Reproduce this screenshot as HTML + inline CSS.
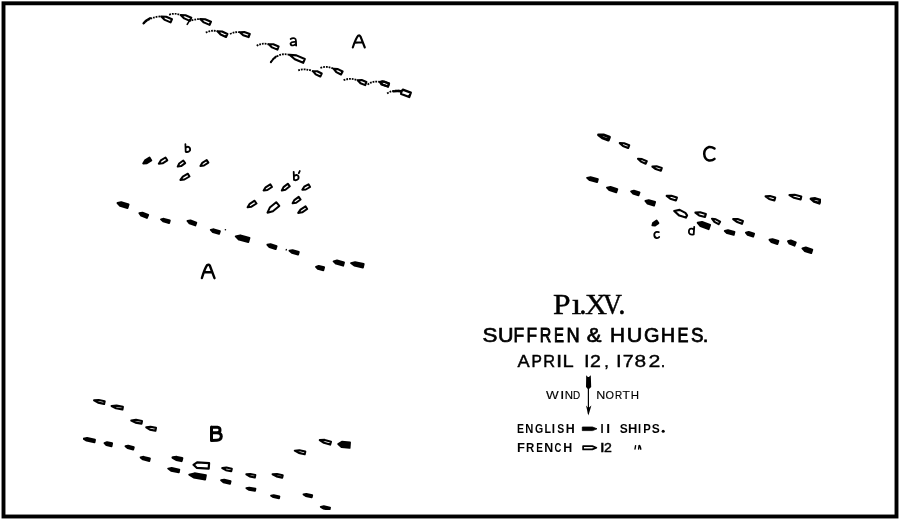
<!DOCTYPE html>
<html><head><meta charset="utf-8"><style>
html,body{margin:0;padding:0;background:#fff;width:900px;height:520px;overflow:hidden}
svg{display:block;will-change:transform}
</style></head><body>
<svg width="900" height="520" viewBox="0 0 900 520">
<rect width="900" height="520" fill="#fff"/>
<rect x="3.5" y="3.3" width="893" height="513.2" fill="none" stroke="#000" stroke-width="3.9"/>
<defs><filter id="bl" x="0" y="0" width="1" height="1"><feGaussianBlur stdDeviation="0.35"/></filter></defs>
<g filter="url(#bl)">
<path d="M161.3,16.5 L164.8,19.9 L170.6,22.4 L172.0,19.2 L166.2,16.7Z" fill="none" stroke="#000" stroke-width="2.1" stroke-linejoin="round"/>
<path d="M180.7,15.1 L184.2,18.4 L189.9,20.9 L191.3,17.7 L185.5,15.3Z" fill="none" stroke="#000" stroke-width="2.1" stroke-linejoin="round"/>
<path d="M200.2,19.1 L203.8,22.4 L209.6,24.9 L211.0,21.7 L205.1,19.3Z" fill="none" stroke="#000" stroke-width="2.1" stroke-linejoin="round"/>
<path d="M217.5,31.2 L220.6,34.5 L226.0,37.0 L227.4,34.0 L222.1,31.5Z" fill="none" stroke="#000" stroke-width="2.1" stroke-linejoin="round"/>
<path d="M239.8,32.2 L243.2,35.2 L248.6,37.1 L249.8,33.9 L244.3,32.0Z" fill="none" stroke="#000" stroke-width="2.1" stroke-linejoin="round"/>
<path d="M268.8,44.3 L272.0,47.4 L277.4,49.6 L278.6,46.4 L273.3,44.3Z" fill="none" stroke="#000" stroke-width="2.1" stroke-linejoin="round"/>
<path d="M289.5,54.8 L294.8,59.3 L303.2,62.8 L304.8,59.0 L296.4,55.4Z" fill="none" stroke="#000" stroke-width="2.1" stroke-linejoin="round"/>
<path d="M313.2,71.3 L315.7,74.4 L320.3,76.5 L321.7,73.5 L317.2,71.3Z" fill="none" stroke="#000" stroke-width="2.1" stroke-linejoin="round"/>
<path d="M333.7,68.8 L336.3,72.1 L341.0,74.5 L342.6,71.5 L337.9,69.1Z" fill="none" stroke="#000" stroke-width="2.1" stroke-linejoin="round"/>
<path d="M357.7,80.3 L360.5,83.2 L365.2,85.1 L366.4,81.9 L361.7,80.1Z" fill="none" stroke="#000" stroke-width="2.1" stroke-linejoin="round"/>
<path d="M379.9,81.7 L382.9,84.7 L387.9,86.6 L389.1,83.4 L384.1,81.5Z" fill="none" stroke="#000" stroke-width="2.1" stroke-linejoin="round"/>
<path d="M401.3,91.6 L401.2,94.0 L409.2,97.0 L410.8,92.6 L402.8,89.7Z" fill="none" stroke="#000" stroke-width="2.3" stroke-linejoin="round"/>
<path d="M380.2,82.4 L381.4,84.5 L388.0,86.6 L389.0,83.4 L382.4,81.3Z" fill="none" stroke="#000" stroke-width="2.1" stroke-linejoin="round"/>
<path d="M143.2,163.5 L146.9,163.3 L151.3,160.5 L149.5,157.6 L145.0,160.4Z" fill="#000" stroke="#000" stroke-width="1.9" stroke-linejoin="round"/>
<path d="M158.8,163.7 L162.6,163.3 L167.3,160.3 L165.5,157.5 L160.8,160.4Z" fill="none" stroke="#000" stroke-width="2.0" stroke-linejoin="round"/>
<path d="M177.7,166.6 L181.1,166.1 L185.2,163.1 L183.3,160.5 L179.2,163.5Z" fill="none" stroke="#000" stroke-width="2.0" stroke-linejoin="round"/>
<path d="M200.4,165.9 L204.0,165.5 L208.4,162.6 L206.7,160.0 L202.3,162.8Z" fill="none" stroke="#000" stroke-width="2.0" stroke-linejoin="round"/>
<path d="M180.4,179.9 L184.4,179.5 L189.5,176.5 L187.9,173.7 L182.8,176.7Z" fill="none" stroke="#000" stroke-width="2.0" stroke-linejoin="round"/>
<path d="M263.6,190.5 L267.4,190.0 L272.0,187.0 L270.3,184.3 L265.6,187.3Z" fill="none" stroke="#000" stroke-width="2.0" stroke-linejoin="round"/>
<path d="M281.8,190.5 L285.4,189.7 L289.8,186.3 L287.8,183.7 L283.5,187.1Z" fill="none" stroke="#000" stroke-width="2.0" stroke-linejoin="round"/>
<path d="M302.3,189.7 L305.8,189.5 L310.1,187.0 L308.5,184.3 L304.2,186.7Z" fill="none" stroke="#000" stroke-width="2.0" stroke-linejoin="round"/>
<path d="M247.6,207.3 L251.5,206.7 L256.5,203.5 L254.6,200.7 L249.7,203.9Z" fill="none" stroke="#000" stroke-width="2.0" stroke-linejoin="round"/>
<path d="M267.5,212.7 L272.9,211.3 L279.3,205.9 L276.2,202.2 L269.8,207.6Z" fill="none" stroke="#000" stroke-width="2.0" stroke-linejoin="round"/>
<path d="M292.6,203.3 L296.2,202.7 L300.6,199.5 L298.7,196.9 L294.3,200.1Z" fill="none" stroke="#000" stroke-width="2.0" stroke-linejoin="round"/>
<path d="M298.2,212.9 L302.2,212.3 L307.2,209.0 L305.5,206.3 L300.5,209.6Z" fill="none" stroke="#000" stroke-width="2.0" stroke-linejoin="round"/>
<path d="M117.5,203.0 L120.1,205.8 L127.5,208.0 L128.6,204.5 L121.2,202.2Z" fill="#000" stroke="#000" stroke-width="1.9" stroke-linejoin="round"/>
<path d="M139.4,213.1 L141.2,215.6 L146.9,217.9 L148.2,214.9 L142.4,212.6Z" fill="#000" stroke="#000" stroke-width="1.9" stroke-linejoin="round"/>
<path d="M161.0,219.4 L163.2,221.4 L169.1,223.0 L169.8,220.4 L163.9,218.8Z" fill="#000" stroke="#000" stroke-width="1.9" stroke-linejoin="round"/>
<path d="M187.5,221.0 L189.5,223.3 L195.3,225.4 L196.3,222.6 L190.5,220.5Z" fill="#000" stroke="#000" stroke-width="1.9" stroke-linejoin="round"/>
<path d="M210.8,229.9 L212.9,232.1 L219.0,233.9 L219.9,231.1 L213.8,229.3Z" fill="#000" stroke="#000" stroke-width="1.9" stroke-linejoin="round"/>
<path d="M235.7,236.4 L239.1,239.7 L248.3,242.1 L249.5,237.8 L240.3,235.3Z" fill="#000" stroke="#000" stroke-width="1.9" stroke-linejoin="round"/>
<path d="M267.4,244.8 L269.5,247.2 L275.6,249.1 L276.6,246.2 L270.5,244.2Z" fill="#000" stroke="#000" stroke-width="1.9" stroke-linejoin="round"/>
<path d="M289.5,250.8 L291.9,252.8 L298.1,254.5 L298.8,251.9 L292.6,250.2Z" fill="#000" stroke="#000" stroke-width="1.9" stroke-linejoin="round"/>
<path d="M316.0,266.8 L317.9,268.9 L323.3,270.3 L324.1,267.2 L318.7,265.9Z" fill="#000" stroke="#000" stroke-width="1.9" stroke-linejoin="round"/>
<path d="M333.6,261.3 L336.1,263.7 L343.1,265.7 L344.0,262.5 L337.0,260.5Z" fill="#000" stroke="#000" stroke-width="1.9" stroke-linejoin="round"/>
<path d="M351.0,263.1 L354.3,265.6 L362.9,267.5 L363.7,264.0 L355.1,262.2Z" fill="#000" stroke="#000" stroke-width="1.9" stroke-linejoin="round"/>
<path d="M94.1,400.4 L98.1,402.6 L104.1,403.9 L104.7,401.2 L98.7,400.0Z" fill="none" stroke="#000" stroke-width="2.1" stroke-linejoin="round"/>
<path d="M111.6,406.0 L116.0,408.3 L122.4,409.5 L122.9,406.9 L116.5,405.6Z" fill="none" stroke="#000" stroke-width="2.1" stroke-linejoin="round"/>
<path d="M131.3,420.5 L135.5,422.6 L141.5,423.6 L142.0,421.0 L136.0,419.9Z" fill="none" stroke="#000" stroke-width="2.1" stroke-linejoin="round"/>
<path d="M146.3,427.3 L149.9,429.6 L155.4,430.8 L156.0,427.9 L150.5,426.8Z" fill="none" stroke="#000" stroke-width="2.1" stroke-linejoin="round"/>
<path d="M222.3,468.0 L225.9,470.2 L231.2,471.3 L231.8,468.7 L226.4,467.5Z" fill="none" stroke="#000" stroke-width="2.1" stroke-linejoin="round"/>
<path d="M246.4,474.4 L249.7,476.4 L254.8,477.5 L255.3,475.0 L250.3,474.0Z" fill="none" stroke="#000" stroke-width="2.1" stroke-linejoin="round"/>
<path d="M272.6,474.3 L276.5,476.4 L282.2,477.6 L282.7,475.2 L277.0,474.0Z" fill="none" stroke="#000" stroke-width="2.1" stroke-linejoin="round"/>
<path d="M294.8,450.7 L298.8,452.9 L304.7,454.2 L305.3,451.5 L299.4,450.3Z" fill="none" stroke="#000" stroke-width="2.1" stroke-linejoin="round"/>
<path d="M319.8,440.1 L323.9,442.8 L330.1,444.6 L331.0,441.7 L324.7,439.9Z" fill="none" stroke="#000" stroke-width="2.1" stroke-linejoin="round"/>
<path d="M193.5,464.8 L196.7,467.8 L208.7,468.7 L209.1,463.1 L197.1,462.3Z" fill="none" stroke="#000" stroke-width="2.2" stroke-linejoin="round"/>
<path d="M172.8,457.7 L176.3,459.7 L181.4,460.8 L182.0,458.3 L176.8,457.2Z" fill="none" stroke="#000" stroke-width="2.7" stroke-linejoin="round"/>
<path d="M83.5,438.6 L86.6,440.6 L94.5,442.3 L95.0,439.7 L87.1,438.0Z" fill="#000" stroke="#000" stroke-width="1.9" stroke-linejoin="round"/>
<path d="M104.5,443.1 L106.4,445.1 L111.5,446.2 L112.1,443.2 L107.0,442.1Z" fill="#000" stroke="#000" stroke-width="1.9" stroke-linejoin="round"/>
<path d="M125.5,446.3 L127.6,448.1 L133.2,449.6 L133.8,447.2 L128.2,445.7Z" fill="#000" stroke="#000" stroke-width="1.9" stroke-linejoin="round"/>
<path d="M140.6,457.4 L143.0,459.4 L149.3,461.0 L149.9,458.4 L143.6,456.8Z" fill="#000" stroke="#000" stroke-width="1.9" stroke-linejoin="round"/>
<path d="M168.2,468.6 L171.1,470.7 L178.8,472.3 L179.3,469.6 L171.7,468.0Z" fill="#000" stroke="#000" stroke-width="1.9" stroke-linejoin="round"/>
<path d="M189.2,474.6 L193.7,477.5 L205.1,479.6 L205.9,475.3 L194.5,473.3Z" fill="#000" stroke="#000" stroke-width="1.9" stroke-linejoin="round"/>
<path d="M221.1,480.3 L223.5,482.4 L230.0,483.9 L230.6,481.1 L224.2,479.6Z" fill="#000" stroke="#000" stroke-width="1.9" stroke-linejoin="round"/>
<path d="M246.4,488.1 L248.8,489.7 L255.0,490.9 L255.4,488.8 L249.2,487.6Z" fill="#000" stroke="#000" stroke-width="1.9" stroke-linejoin="round"/>
<path d="M271.1,495.7 L273.4,497.1 L279.0,498.2 L279.4,496.4 L273.7,495.3Z" fill="#000" stroke="#000" stroke-width="1.9" stroke-linejoin="round"/>
<path d="M338.2,444.1 L341.5,447.1 L349.6,447.8 L350.0,442.5 L341.9,441.8Z" fill="#000" stroke="#000" stroke-width="1.9" stroke-linejoin="round"/>
<path d="M303.5,494.4 L305.8,496.0 L311.7,497.2 L312.2,495.2 L306.3,493.9Z" fill="#000" stroke="#000" stroke-width="1.9" stroke-linejoin="round"/>
<path d="M320.8,506.9 L323.3,508.5 L329.5,509.9 L330.0,507.6 L323.8,506.3Z" fill="#000" stroke="#000" stroke-width="1.9" stroke-linejoin="round"/>
<path d="M619.8,143.1 L623.0,146.0 L628.1,148.0 L629.2,145.3 L624.1,143.3Z" fill="none" stroke="#000" stroke-width="2.1" stroke-linejoin="round"/>
<path d="M638.0,158.8 L640.9,161.6 L645.7,163.7 L646.8,161.2 L642.0,159.1Z" fill="none" stroke="#000" stroke-width="2.1" stroke-linejoin="round"/>
<path d="M652.4,166.6 L655.7,169.1 L660.9,170.7 L661.8,167.9 L656.6,166.3Z" fill="none" stroke="#000" stroke-width="2.1" stroke-linejoin="round"/>
<path d="M666.7,195.9 L670.3,198.7 L675.9,200.5 L676.9,197.6 L671.3,195.8Z" fill="none" stroke="#000" stroke-width="2.1" stroke-linejoin="round"/>
<path d="M695.4,212.6 L699.1,215.4 L705.0,217.0 L705.9,213.9 L700.1,212.2Z" fill="none" stroke="#000" stroke-width="2.1" stroke-linejoin="round"/>
<path d="M712.0,218.7 L714.4,221.8 L718.6,224.2 L720.1,221.7 L715.8,219.3Z" fill="none" stroke="#000" stroke-width="2.1" stroke-linejoin="round"/>
<path d="M733.2,219.1 L736.6,221.8 L741.9,223.8 L742.9,221.1 L737.6,219.1Z" fill="none" stroke="#000" stroke-width="2.1" stroke-linejoin="round"/>
<path d="M765.6,196.4 L769.1,198.9 L774.4,200.4 L775.2,197.6 L769.9,196.1Z" fill="none" stroke="#000" stroke-width="2.1" stroke-linejoin="round"/>
<path d="M789.5,195.1 L794.0,197.8 L800.6,199.5 L801.3,196.5 L794.7,194.8Z" fill="none" stroke="#000" stroke-width="2.1" stroke-linejoin="round"/>
<path d="M598.5,134.8 L602.4,137.9 L608.4,140.1 L609.5,137.1 L603.5,134.9Z" fill="none" stroke="#000" stroke-width="2.8" stroke-linejoin="round"/>
<path d="M810.9,198.8 L814.1,201.6 L819.3,203.3 L820.3,200.1 L815.2,198.4Z" fill="none" stroke="#000" stroke-width="2.6" stroke-linejoin="round"/>
<path d="M674.2,211 L679.6,209.9 L685.4,212.9 L687.1,215.4 L685.8,217.6 L679.3,215.6 Z" fill="none" stroke="#000" stroke-width="2.1" stroke-linejoin="round"/>
<path d="M587.1,177.9 L589.8,180.2 L597.1,182.1 L597.9,179.1 L590.6,177.2Z" fill="#000" stroke="#000" stroke-width="1.9" stroke-linejoin="round"/>
<path d="M607.0,187.6 L609.4,190.2 L616.2,192.4 L617.3,189.1 L610.5,186.9Z" fill="#000" stroke="#000" stroke-width="1.9" stroke-linejoin="round"/>
<path d="M631.1,191.3 L633.0,193.5 L638.5,195.3 L639.5,192.4 L633.9,190.6Z" fill="#000" stroke="#000" stroke-width="1.9" stroke-linejoin="round"/>
<path d="M645.4,201.0 L647.6,203.6 L654.0,205.6 L655.1,202.0 L648.7,200.1Z" fill="#000" stroke="#000" stroke-width="1.9" stroke-linejoin="round"/>
<path d="M652.4,225.4 L654.8,225.6 L658.4,223.1 L656.6,220.5 L653.0,223.0Z" fill="#000" stroke="#000" stroke-width="1.9" stroke-linejoin="round"/>
<path d="M697.7,222.8 L700.5,226.2 L708.6,229.2 L710.1,225.0 L702.0,222.0Z" fill="#000" stroke="#000" stroke-width="1.9" stroke-linejoin="round"/>
<path d="M724.8,231.0 L727.2,233.2 L733.7,234.9 L734.5,231.8 L728.0,230.2Z" fill="#000" stroke="#000" stroke-width="1.9" stroke-linejoin="round"/>
<path d="M745.9,232.6 L747.7,234.8 L753.1,236.6 L754.1,233.6 L748.7,231.9Z" fill="#000" stroke="#000" stroke-width="1.9" stroke-linejoin="round"/>
<path d="M769.5,239.8 L771.5,242.1 L777.4,244.0 L778.4,241.0 L772.5,239.1Z" fill="#000" stroke="#000" stroke-width="1.9" stroke-linejoin="round"/>
<path d="M788.0,241.2 L789.5,243.7 L794.5,245.7 L795.8,242.5 L790.8,240.5Z" fill="#000" stroke="#000" stroke-width="1.9" stroke-linejoin="round"/>
<path d="M802.4,248.3 L804.7,251.0 L811.2,253.1 L812.3,249.6 L805.8,247.5Z" fill="#000" stroke="#000" stroke-width="1.9" stroke-linejoin="round"/>
<path d="M143.5,23.4 Q150,17 161,16.3" fill="none" stroke="#000" stroke-width="1.8" stroke-dasharray="1.8 1.0" stroke-linecap="butt"/>
<path d="M169.2,14.8 Q175,12.5 180.7,15.1" fill="none" stroke="#000" stroke-width="1.8" stroke-dasharray="1.8 1.0" stroke-linecap="butt"/>
<path d="M191.5,20.3 Q196,19 200.2,19.1" fill="none" stroke="#000" stroke-width="1.8" stroke-dasharray="1.8 1.0" stroke-linecap="butt"/>
<path d="M205.8,32.6 Q211,29.8 217.5,31.2" fill="none" stroke="#000" stroke-width="1.8" stroke-dasharray="1.8 1.0" stroke-linecap="butt"/>
<path d="M230,34 Q235,31.5 239.8,32.2" fill="none" stroke="#000" stroke-width="1.8" stroke-dasharray="1.8 1.0" stroke-linecap="butt"/>
<path d="M256.7,45.8 Q262,42.5 268.8,44.3" fill="none" stroke="#000" stroke-width="1.8" stroke-dasharray="1.8 1.0" stroke-linecap="butt"/>
<path d="M270.8,62.3 Q278,52 289.5,54.8" fill="none" stroke="#000" stroke-width="1.8" stroke-dasharray="1.8 1.0" stroke-linecap="butt"/>
<path d="M298.2,70.4 Q305,68 313.2,71.3" fill="none" stroke="#000" stroke-width="1.8" stroke-dasharray="1.8 1.0" stroke-linecap="butt"/>
<path d="M320.4,67.9 Q327,65.5 333.7,68.8" fill="none" stroke="#000" stroke-width="1.8" stroke-dasharray="1.8 1.0" stroke-linecap="butt"/>
<path d="M343.6,80.2 Q350,77.5 357.7,80.3" fill="none" stroke="#000" stroke-width="1.8" stroke-dasharray="1.8 1.0" stroke-linecap="butt"/>
<path d="M367.6,84.6 Q373,80.5 379.9,82" fill="none" stroke="#000" stroke-width="1.8" stroke-dasharray="1.8 1.0" stroke-linecap="butt"/>
<path d="M387.1,93.4 Q393,89.5 401.2,91" fill="none" stroke="#000" stroke-width="1.8" stroke-dasharray="1.8 1.0" stroke-linecap="butt"/>
<path d="M143.5,23.4 Q146,20 150,18.2" fill="none" stroke="#000" stroke-width="2.2" stroke-linecap="round"/>
<path d="M270.8,62.3 Q273,58.5 276,56.5" fill="none" stroke="#000" stroke-width="1.9" stroke-linecap="round"/>
<path d="M187.2,24.4 L189.2,21.2" fill="none" stroke="#000" stroke-width="1.6" stroke-linecap="round"/>
<path d="M393.5,91.4 Q397,90.6 401,91.3" fill="none" stroke="#000" stroke-width="2.4" stroke-linecap="round"/>
<path d="M352.8,47.5 Q356,38 358.3,35.6 Q359.6,35 360.5,36.5 L364.8,47.5 M354.9,42.6 L362.6,42.3" fill="none" stroke="#000" stroke-linecap="round" stroke-linejoin="round" stroke-width="2.1"/>
<path d="M201.9,278 Q205,268 207,265.3 Q208.6,264 209.8,265.5 L214.5,278.2 M204.2,272.3 L212.2,272.3" fill="none" stroke="#000" stroke-linecap="round" stroke-linejoin="round" stroke-width="2.4"/>
<path d="M211.5,427.2 L217.5,427.2 Q220,427.4 220,430 Q220,432.8 217,432.8 L211.5,432.8 M217,432.8 Q221.3,433 221.3,436.5 Q221,440.2 217,440.3 L211.5,440.4 M211.5,427 L211.5,440.4" fill="none" stroke="#000" stroke-linecap="round" stroke-linejoin="round" stroke-width="3.0"/>
<path d="M714.5,148.5 Q712,146.7 709,147 Q704.2,148.5 704.2,153.8 Q704.5,159.5 709,160.5 Q712.5,160.8 714.5,158.8" fill="none" stroke="#000" stroke-linecap="round" stroke-linejoin="round" stroke-width="2.5"/>
<path d="M290.6,39 Q292.5,37.6 294.5,38.3 Q296,39 296,41 L296.2,45.6 M296,42 Q291.5,41.5 290.5,43.5 Q290.5,45.5 293,45.5 Q295.5,45 296,43.5" fill="none" stroke="#000" stroke-linecap="round" stroke-linejoin="round" stroke-width="1.7"/>
<path d="M185.4,144.2 L185.7,151.8 Q188.5,152.5 190,150.5 Q190.6,147.5 188.5,146.8 Q186.5,146.5 185.6,148" fill="none" stroke="#000" stroke-linecap="round" stroke-linejoin="round" stroke-width="1.8"/>
<path d="M293.7,171.8 L294,180 Q297,180.8 298.4,178.8 Q299.2,175.8 297,175 Q295,174.8 294,176.3 M299.8,171 L298.8,173.2" fill="none" stroke="#000" stroke-linecap="round" stroke-linejoin="round" stroke-width="1.8"/>
<path d="M658.8,232.2 Q655.2,231 654.3,234 Q654,237.5 656.5,238 Q658.4,238.2 659.2,237" fill="none" stroke="#000" stroke-linecap="round" stroke-linejoin="round" stroke-width="1.8"/>
<path d="M694.2,226.9 L693.7,234.4 Q690.2,235.4 689,232.8 Q688.4,229 691,228.7 Q692.9,228.5 693.8,229.6" fill="none" stroke="#000" stroke-linecap="round" stroke-linejoin="round" stroke-width="1.8"/>
<circle cx="225.4" cy="229.7" r="0.8" fill="#000"/>
<path d="M285.9,250.6 L286.6,248.9" stroke="#000" stroke-width="1.2"/>
<path d="M588.4,377 L588.4,414" stroke="#000" stroke-width="1.2"/>
<path d="M586.2,375.3 L588.4,377.5 L590.8,375.3 L591.2,387 L588.4,389.5 L586,387 Z" fill="#000"/>
<path d="M586,405.5 L588.4,415.5 L591.4,405.5 L588.4,408 Z" fill="#000"/>
<path d="M582.3,427 L592.5,427 L597,428.8 L592.5,430.6 L582.3,430.6 Z" fill="#000" stroke="#000" stroke-width="0.8"/>
<path d="M583.1,446.1 L592.3,446.1 L596.4,447.7 L592.3,449.4 L583.1,449.4 Z" fill="none" stroke="#000" stroke-width="1.7" stroke-linejoin="round"/>
<path d="M635.0,449.0 L635.6,445.6 M638.6,449.0 L639.1,445.6 Q640,445.4 640.3,447 L640.8,449.2" fill="none" stroke="#000" stroke-width="1.4" stroke-linecap="round"/>
<text transform="translate(553.09,314.40) scale(1.083,1)" font-family="Liberation Serif" font-weight="normal" font-size="29.17" fill="#000" stroke="#000" stroke-width="0.42">P</text>
<text transform="translate(571.45,314.40) scale(1.225,1)" font-family="Liberation Serif" font-weight="normal" font-size="29.17" fill="#000" stroke="#000" stroke-width="0.37">ı</text>
<text transform="translate(579.25,314.40) scale(1.000,1)" font-family="Liberation Serif" font-weight="normal" font-size="29.17" fill="#000" stroke="#000" stroke-width="0.45">.</text>
<text transform="translate(584.93,314.40) scale(1.045,1)" font-family="Liberation Serif" font-weight="normal" font-size="29.17" fill="#000" stroke="#000" stroke-width="0.43">X</text>
<text transform="translate(603.01,314.40) scale(0.897,1)" font-family="Liberation Serif" font-weight="normal" font-size="29.17" fill="#000" stroke="#000" stroke-width="0.50">V</text>
<text transform="translate(618.35,314.40) scale(1.000,1)" font-family="Liberation Serif" font-weight="normal" font-size="29.17" fill="#000" stroke="#000" stroke-width="0.45">.</text>
<text transform="translate(482.38,342.20) scale(1.101,1)" font-family="Liberation Sans" font-weight="normal" font-size="20.35" fill="#000" stroke="#000" stroke-width="0.64">S</text>
<text transform="translate(498.04,342.20) scale(1.056,1)" font-family="Liberation Sans" font-weight="normal" font-size="20.35" fill="#000" stroke="#000" stroke-width="0.66">U</text>
<text transform="translate(513.47,342.20) scale(0.855,1)" font-family="Liberation Sans" font-weight="normal" font-size="20.35" fill="#000" stroke="#000" stroke-width="0.82">F</text>
<text transform="translate(526.49,342.20) scale(0.845,1)" font-family="Liberation Sans" font-weight="normal" font-size="20.35" fill="#000" stroke="#000" stroke-width="0.83">F</text>
<text transform="translate(539.69,342.20) scale(0.786,1)" font-family="Liberation Sans" font-weight="normal" font-size="20.35" fill="#000" stroke="#000" stroke-width="0.89">R</text>
<text transform="translate(554.07,342.20) scale(0.734,1)" font-family="Liberation Sans" font-weight="normal" font-size="20.35" fill="#000" stroke="#000" stroke-width="0.95">E</text>
<text transform="translate(566.60,342.20) scale(0.897,1)" font-family="Liberation Sans" font-weight="normal" font-size="20.35" fill="#000" stroke="#000" stroke-width="0.78">N</text>
<text transform="translate(586.82,342.20) scale(1.085,1)" font-family="Liberation Sans" font-weight="normal" font-size="20.35" fill="#000" stroke="#000" stroke-width="0.65">&amp;</text>
<text transform="translate(610.00,342.20) scale(1.021,1)" font-family="Liberation Sans" font-weight="normal" font-size="20.35" fill="#000" stroke="#000" stroke-width="0.69">H</text>
<text transform="translate(626.63,342.20) scale(1.064,1)" font-family="Liberation Sans" font-weight="normal" font-size="20.35" fill="#000" stroke="#000" stroke-width="0.66">U</text>
<text transform="translate(644.00,342.20) scale(0.979,1)" font-family="Liberation Sans" font-weight="normal" font-size="20.35" fill="#000" stroke="#000" stroke-width="0.72">G</text>
<text transform="translate(660.67,342.20) scale(0.977,1)" font-family="Liberation Sans" font-weight="normal" font-size="20.35" fill="#000" stroke="#000" stroke-width="0.72">H</text>
<text transform="translate(677.55,342.20) scale(0.807,1)" font-family="Liberation Sans" font-weight="normal" font-size="20.35" fill="#000" stroke="#000" stroke-width="0.87">E</text>
<text transform="translate(691.05,342.20) scale(0.922,1)" font-family="Liberation Sans" font-weight="normal" font-size="20.35" fill="#000" stroke="#000" stroke-width="0.76">S</text>
<text transform="translate(702.77,342.20) scale(1.000,1)" font-family="Liberation Sans" font-weight="normal" font-size="20.35" fill="#000" stroke="#000" stroke-width="0.70">.</text>
<text transform="translate(517.46,367.40) scale(1.121,1)" font-family="Liberation Sans" font-weight="normal" font-size="16.28" fill="#000" stroke="#000" stroke-width="0.40">A</text>
<text transform="translate(531.52,367.40) scale(0.958,1)" font-family="Liberation Sans" font-weight="normal" font-size="16.28" fill="#000" stroke="#000" stroke-width="0.47">P</text>
<text transform="translate(543.36,367.40) scale(1.004,1)" font-family="Liberation Sans" font-weight="normal" font-size="16.28" fill="#000" stroke="#000" stroke-width="0.45">R</text>
<text transform="translate(555.92,367.40) scale(1.383,1)" font-family="Liberation Sans" font-weight="normal" font-size="16.28" fill="#000" stroke="#000" stroke-width="0.33">I</text>
<text transform="translate(562.54,367.40) scale(1.240,1)" font-family="Liberation Sans" font-weight="normal" font-size="16.28" fill="#000" stroke="#000" stroke-width="0.36">L</text>
<text transform="translate(584.12,367.40) scale(1.251,1)" font-family="Liberation Sans" font-weight="normal" font-size="16.28" fill="#000" stroke="#000" stroke-width="0.36">I</text>
<text transform="translate(589.92,367.40) scale(1.200,1)" font-family="Liberation Sans" font-weight="normal" font-size="16.28" fill="#000" stroke="#000" stroke-width="0.37">2</text>
<text transform="translate(604.19,367.40) scale(1.000,1)" font-family="Liberation Sans" font-weight="normal" font-size="16.28" fill="#000" stroke="#000" stroke-width="0.45">,</text>
<text transform="translate(616.12,367.40) scale(1.251,1)" font-family="Liberation Sans" font-weight="normal" font-size="16.28" fill="#000" stroke="#000" stroke-width="0.36">I</text>
<text transform="translate(622.80,367.40) scale(1.203,1)" font-family="Liberation Sans" font-weight="normal" font-size="16.28" fill="#000" stroke="#000" stroke-width="0.37">7</text>
<text transform="translate(634.39,367.40) scale(1.283,1)" font-family="Liberation Sans" font-weight="normal" font-size="16.28" fill="#000" stroke="#000" stroke-width="0.35">8</text>
<text transform="translate(648.53,367.40) scale(1.308,1)" font-family="Liberation Sans" font-weight="normal" font-size="16.28" fill="#000" stroke="#000" stroke-width="0.34">2</text>
<text transform="translate(660.64,367.40) scale(1.000,1)" font-family="Liberation Sans" font-weight="normal" font-size="16.28" fill="#000" stroke="#000" stroke-width="0.45">.</text>
<text transform="translate(546.04,398.60) scale(1.269,1)" font-family="Liberation Sans" font-weight="normal" font-size="10.61" fill="#000" stroke="#000" stroke-width="0.12">W</text>
<text transform="translate(560.12,398.60) scale(1.516,1)" font-family="Liberation Sans" font-weight="normal" font-size="10.61" fill="#000" stroke="#000" stroke-width="0.10">I</text>
<text transform="translate(564.76,398.60) scale(1.080,1)" font-family="Liberation Sans" font-weight="normal" font-size="10.61" fill="#000" stroke="#000" stroke-width="0.14">N</text>
<text transform="translate(572.98,398.60) scale(0.939,1)" font-family="Liberation Sans" font-weight="normal" font-size="10.61" fill="#000" stroke="#000" stroke-width="0.16">D</text>
<text transform="translate(596.17,398.60) scale(1.181,1)" font-family="Liberation Sans" font-weight="normal" font-size="10.61" fill="#000" stroke="#000" stroke-width="0.13">N</text>
<text transform="translate(605.39,398.60) scale(1.022,1)" font-family="Liberation Sans" font-weight="normal" font-size="10.61" fill="#000" stroke="#000" stroke-width="0.15">O</text>
<text transform="translate(614.98,398.60) scale(0.936,1)" font-family="Liberation Sans" font-weight="normal" font-size="10.61" fill="#000" stroke="#000" stroke-width="0.16">R</text>
<text transform="translate(622.53,398.60) scale(1.133,1)" font-family="Liberation Sans" font-weight="normal" font-size="10.61" fill="#000" stroke="#000" stroke-width="0.13">T</text>
<text transform="translate(630.66,398.60) scale(1.080,1)" font-family="Liberation Sans" font-weight="normal" font-size="10.61" fill="#000" stroke="#000" stroke-width="0.14">H</text>
<text transform="translate(517.10,433.00) scale(0.861,1)" font-family="Liberation Sans" font-weight="bold" font-size="12.21" fill="#000">E</text>
<text transform="translate(525.35,433.00) scale(0.919,1)" font-family="Liberation Sans" font-weight="bold" font-size="12.21" fill="#000">N</text>
<text transform="translate(535.07,433.00) scale(0.862,1)" font-family="Liberation Sans" font-weight="bold" font-size="12.21" fill="#000">G</text>
<text transform="translate(544.48,433.00) scale(0.878,1)" font-family="Liberation Sans" font-weight="bold" font-size="12.21" fill="#000">L</text>
<text transform="translate(551.71,433.00) scale(0.967,1)" font-family="Liberation Sans" font-weight="bold" font-size="12.21" fill="#000">I</text>
<text transform="translate(557.30,433.00) scale(0.861,1)" font-family="Liberation Sans" font-weight="bold" font-size="12.21" fill="#000">S</text>
<text transform="translate(565.77,433.00) scale(1.017,1)" font-family="Liberation Sans" font-weight="bold" font-size="12.21" fill="#000">H</text>
<text transform="translate(600.46,432.80) scale(0.910,1)" font-family="Liberation Sans" font-weight="bold" font-size="12.21" fill="#000">I</text>
<text transform="translate(606.27,432.80) scale(1.137,1)" font-family="Liberation Sans" font-weight="bold" font-size="12.21" fill="#000">I</text>
<text transform="translate(619.65,432.80) scale(0.984,1)" font-family="Liberation Sans" font-weight="bold" font-size="12.21" fill="#000">S</text>
<text transform="translate(627.94,432.80) scale(1.059,1)" font-family="Liberation Sans" font-weight="bold" font-size="12.21" fill="#000">H</text>
<text transform="translate(638.06,432.80) scale(0.910,1)" font-family="Liberation Sans" font-weight="bold" font-size="12.21" fill="#000">I</text>
<text transform="translate(643.24,432.80) scale(0.926,1)" font-family="Liberation Sans" font-weight="bold" font-size="12.21" fill="#000">P</text>
<text transform="translate(651.65,432.80) scale(0.984,1)" font-family="Liberation Sans" font-weight="bold" font-size="12.21" fill="#000">S</text>
<circle cx="663.2" cy="431.2" r="1.55" fill="#000"/>
<text transform="translate(516.93,452.40) scale(0.973,1)" font-family="Liberation Sans" font-weight="bold" font-size="13.37" fill="#000">F</text>
<text transform="translate(526.03,452.40) scale(0.860,1)" font-family="Liberation Sans" font-weight="bold" font-size="13.37" fill="#000">R</text>
<text transform="translate(536.13,452.40) scale(0.746,1)" font-family="Liberation Sans" font-weight="bold" font-size="13.37" fill="#000">E</text>
<text transform="translate(544.27,452.40) scale(0.929,1)" font-family="Liberation Sans" font-weight="bold" font-size="13.37" fill="#000">N</text>
<text transform="translate(554.51,452.40) scale(0.709,1)" font-family="Liberation Sans" font-weight="bold" font-size="13.37" fill="#000">C</text>
<text transform="translate(563.37,452.40) scale(0.929,1)" font-family="Liberation Sans" font-weight="bold" font-size="13.37" fill="#000">H</text>
<text transform="translate(599.82,452.40) scale(1.363,1)" font-family="Liberation Sans" font-weight="normal" font-size="13.37" fill="#000" stroke="#000" stroke-width="0.37">I</text>
<text transform="translate(604.09,452.40) scale(1.051,1)" font-family="Liberation Sans" font-weight="normal" font-size="13.37" fill="#000" stroke="#000" stroke-width="0.48">2</text>
</g>
</svg>
</body></html>
